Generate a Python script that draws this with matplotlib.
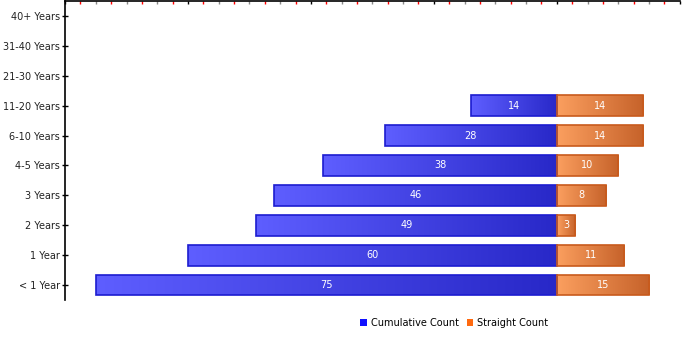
import numpy as np
import matplotlib.pyplot as plt
from matplotlib.colors import LinearSegmentedColormap
from matplotlib.patches import Patch
from matplotlib.ticker import MultipleLocator

# tenure buckets, bottom to top
categories = ["< 1 Year", "1 Year", "2 Years", "3 Years", "4-5 Years",
              "6-10 Years", "11-20 Years", "21-30 Years", "31-40 Years", "40+ Years"]
cumulative = [75, 60, 49, 46, 38, 28, 14, 0, 0, 0]
straight = [15, 11, 3, 8, 10, 14, 14, 0, 0, 0]

blue_grad = LinearSegmentedColormap.from_list("blue_grad", ["#5e5eff", "#2828c8"])
orange_grad = LinearSegmentedColormap.from_list("orange_grad", ["#fb9f5f", "#c6622a"])
grad = np.linspace(0, 1, 256).reshape(1, -1)

fig = plt.figure(figsize=(7, 3.5), dpi=100)
ax = fig.add_axes([0.093, 0.143, 0.878, 0.854])

y = np.arange(len(categories))
cum_bars = ax.barh(y, [-v for v in cumulative], height=0.7,
                   facecolor="none", edgecolor="#1c1cd0", linewidth=1.2, zorder=3)
str_bars = ax.barh(y, straight, height=0.7,
                   facecolor="none", edgecolor="#c85a1c", linewidth=1.2, zorder=3)

# fill each bar with a left-to-right gradient
for bars, cmap in ((cum_bars, blue_grad), (str_bars, orange_grad)):
    for p in bars:
        if p.get_width() == 0:
            p.set_visible(False)
            continue
        x0 = min(p.get_x(), p.get_x() + p.get_width())
        x1 = max(p.get_x(), p.get_x() + p.get_width())
        y0, y1 = p.get_y(), p.get_y() + p.get_height()
        im = ax.imshow(grad, extent=[x0, x1, y0, y1], cmap=cmap,
                       aspect="auto", zorder=2, interpolation="bilinear")
        im.set_clip_path(p)

for yi, c, s in zip(y, cumulative, straight):
    if c:
        ax.text(-c / 2, yi, str(c), color="white", ha="center", va="center",
                fontsize=7, zorder=4)
    if s:
        ax.text(s / 2, yi, str(s), color="white", ha="center", va="center",
                fontsize=7, zorder=4)

ax.set_xlim(-80, 20)
ax.set_ylim(-0.5, len(categories) - 0.5)

ax.set_yticks(y, categories)
ax.tick_params(axis="y", direction="inout", length=5, width=1, pad=1,
               labelsize=7, labelcolor="#222222")

ax.xaxis.tick_top()
ax.xaxis.set_major_locator(MultipleLocator(20))
ax.xaxis.set_minor_locator(MultipleLocator(5))
ax.tick_params(axis="x", which="both", direction="in", labeltop=False,
               labelbottom=False)
ax.tick_params(axis="x", which="major", length=2.5, width=1, color="black")
ax.tick_params(axis="x", which="minor", length=2.5, width=1, color="#888888")

# small red marks halfway between the grey ones
half = ax.secondary_xaxis("top")
half.set_xticks(np.arange(-77.5, 20, 5))
half.tick_params(direction="in", length=1.8, width=1, color="red",
                 labeltop=False)
half.spines["top"].set_visible(False)

for side in ("right", "bottom"):
    ax.spines[side].set_visible(False)
ax.spines["left"].set_linewidth(1.2)
ax.spines["top"].set_linewidth(1.2)

handles = [Patch(facecolor="#1010ff", edgecolor="none", label="Cumulative Count"),
           Patch(facecolor="#ff6a10", edgecolor="none", label="Straight Count")]
fig.legend(handles=handles, loc="center", bbox_to_anchor=(0.649, 0.078),
           ncol=2, frameon=False, fontsize=7, handlelength=0.7,
           handleheight=0.7, handletextpad=0.4, columnspacing=0.8)

fig.savefig("out.png", dpi=100)
